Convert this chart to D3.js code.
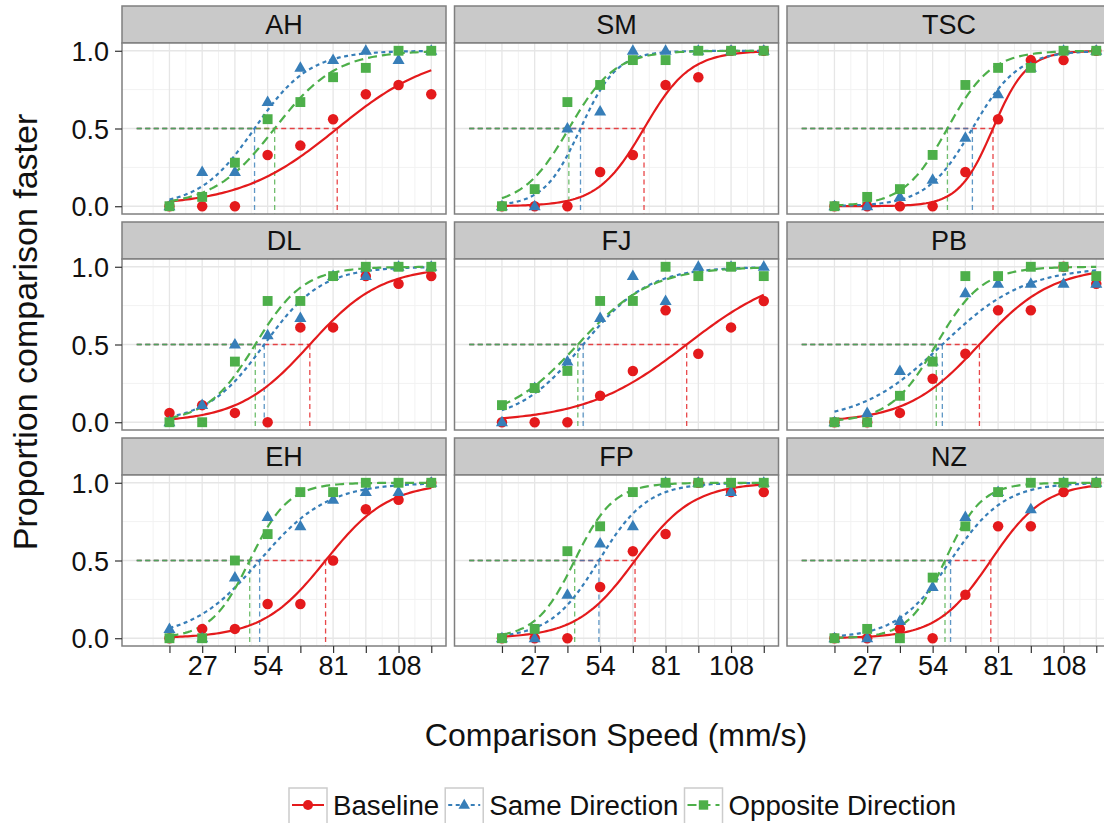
<!DOCTYPE html>
<html>
<head>
<meta charset="utf-8">
<script src="https://cdnjs.cloudflare.com/ajax/libs/d3/7.8.5/d3.min.js"></script>
<style>
  body { margin: 0; background: #fff; }
  text { font-family: "Liberation Sans", Arial, Helvetica, sans-serif; }
</style>
</head>
<body>
<div id="chart"></div>
<script>
// data: proportion "comparison faster" per speed
var subjects = ['AH', 'SM', 'TSC', 'DL', 'FJ', 'PB', 'EH', 'FP', 'NZ']
var conditions = ['Baseline', 'Same Direction', 'Opposite Direction']
var speeds = [13.5, 27, 40.5, 54, 67.5, 81, 94.5, 108, 121.5]
var xTickLabels = ['', '27', '', '54', '', '81', '', '108', '']
var yTicks = [0, 0.5, 1.0]

var baselineProp = [
  [0, 0, 0, 0.33, 0.39, 0.56, 0.72, 0.78, 0.72],
  [0, 0, 0, 0.22, 0.33, 0.78, 0.83, 1.0, 1.0],
  [0, 0, 0, 0, 0.22, 0.56, 0.94, 0.94, 1.0],
  [0.06, 0.11, 0.06, 0, 0.61, 0.61, 0.94, 0.89, 0.94],
  [0, 0, 0, 0.17, 0.33, 0.72, 0.44, 0.61, 0.78],
  [0, 0, 0.06, 0.28, 0.44, 0.72, 0.72, 1.0, 0.89],
  [0, 0.06, 0.06, 0.22, 0.22, 0.5, 0.83, 0.89, 1.0],
  [0, 0, 0, 0.33, 0.56, 0.67, 1.0, 0.94, 0.94],
  [0, 0, 0.06, 0, 0.28, 0.72, 0.72, 0.94, 1.0]
]
var sameProp = [
  [0, 0.22, 0.22, 0.67, 0.89, 0.94, 1.0, 0.94, 1.0],
  [0, 0, 0.5, 0.61, 1.0, 1.0, 1.0, 1.0, 1.0],
  [0, 0, 0.06, 0.17, 0.44, 0.72, 0.89, 1.0, 1.0],
  [0, 0.11, 0.5, 0.56, 0.67, 0.94, 0.94, 1.0, 1.0],
  [0, 0.22, 0.39, 0.67, 0.94, 0.78, 1.0, 1.0, 1.0],
  [0, 0.06, 0.33, 0.39, 0.83, 0.89, 0.89, 0.89, 0.89],
  [0.06, 0, 0.39, 0.78, 0.72, 0.89, 0.94, 0.94, 1.0],
  [0, 0, 0.28, 0.61, 0.72, 1.0, 1.0, 0.94, 1.0],
  [0, 0, 0.11, 0.33, 0.78, 0.94, 0.83, 1.0, 1.0]
]
var oppositeProp = [
  [0, 0.06, 0.28, 0.56, 0.67, 0.83, 0.89, 1.0, 1.0],
  [0, 0.11, 0.67, 0.78, 0.94, 0.94, 1.0, 1.0, 1.0],
  [0, 0.06, 0.11, 0.33, 0.78, 0.89, 0.89, 1.0, 1.0],
  [0, 0, 0.39, 0.78, 0.78, 0.94, 1.0, 1.0, 1.0],
  [0.11, 0.22, 0.33, 0.78, 0.78, 1.0, 0.94, 1.0, 0.94],
  [0, 0, 0.17, 0.39, 0.94, 0.94, 1.0, 1.0, 0.94],
  [0, 0, 0.5, 0.67, 0.94, 0.94, 1.0, 1.0, 1.0],
  [0, 0.06, 0.56, 0.72, 0.94, 1.0, 1.0, 1.0, 1.0],
  [0, 0.06, 0, 0.39, 0.72, 0.94, 1.0, 1.0, 1.0]
]

// fitted psychometric functions: 50% point (PSE) and spread, per subject
var baselinePSE = [82.7, 72.1, 78.9, 71.4, 89.7, 73.3, 77.9, 68.4, 78.0]
var baselineSpread = [20, 9.5, 7, 14.7, 21, 15, 13, 12, 11]
var samePSE = [48.6, 45.9, 70.4, 52.6, 47.0, 58.0, 50.7, 53.5, 61.4]
var sameSpread = [11.3, 7.5, 9.5, 11.8, 13.5, 17, 14, 10, 11]
var oppositePSE = [56.9, 41.1, 60.1, 48.9, 44.8, 55.5, 46.6, 43.5, 59.1]
var oppositeSpread = [12.7, 9.5, 9, 10, 15, 9.5, 8, 8, 7.5]

var colors = ['#E41A1C', '#377EB8', '#4DAF4A']
var dashes = [null, '4,3.5', '9,5']
var props = [baselineProp, sameProp, oppositeProp]
var pses = [baselinePSE, samePSE, oppositePSE]
var spreads = [baselineSpread, sameSpread, oppositeSpread]

var width = 1104, height = 823
var panelLeft = 122, panelW = 324, colStep = 332.5
var stripTop = 6, stripH = 37, panelH = 171, rowStep = 216

var svg = d3.select('#chart').append('svg')
  .attr('width', width)
  .attr('height', height)

var x = d3.scaleLinear().domain([-6.075, 127.575]).range([0, panelW])
var y = d3.scaleLinear().domain([-0.05, 1.05]).range([panelH, 0])

var majorX = speeds
var minorX = speeds.map(function(d) { return d - 6.75 })
var minorY = [0.25, 0.75]

function logistic(v, pse, s) { return 1 / (1 + Math.exp(-(v - pse) / s)) }

function drawMarker(sel, k, cx, cy, size) {
  if (k == 0) {
    sel.append('circle').attr('cx', cx).attr('cy', cy).attr('r', size * 0.5).attr('fill', colors[0])
  } else if (k == 1) {
    var h = size * 1.0, w = size * 1.15
    sel.append('path')
      .attr('d', 'M' + cx + ',' + (cy - h * 0.62) + 'L' + (cx + w / 2) + ',' + (cy + h * 0.38) + 'L' + (cx - w / 2) + ',' + (cy + h * 0.38) + 'Z')
      .attr('fill', colors[1])
  } else {
    sel.append('rect').attr('x', cx - size * 0.47).attr('y', cy - size * 0.47)
      .attr('width', size * 0.94).attr('height', size * 0.94).attr('fill', colors[2])
  }
}

var curve = d3.line().x(function(d) { return x(d[0]) }).y(function(d) { return y(d[1]) })

subjects.forEach(function(name, i) {
  var col = i % 3, row = Math.floor(i / 3)
  var g = svg.append('g')
    .attr('transform', 'translate(' + (panelLeft + col * colStep) + ',' + (stripTop + row * rowStep + stripH) + ')')

  // strip
  g.append('rect')
    .attr('x', 0).attr('y', -stripH).attr('width', panelW).attr('height', stripH)
    .attr('fill', '#C9C9C9').attr('stroke', '#7F7F7F').attr('stroke-width', 1.5)
  g.append('text')
    .attr('x', panelW / 2).attr('y', -stripH / 2 + 9.5)
    .attr('text-anchor', 'middle').attr('font-size', 27).attr('fill', '#111')
    .text(name)

  g.append('rect').attr('width', panelW).attr('height', panelH).attr('fill', '#fff')

  // grid
  g.selectAll('.minx').data(minorX).enter().append('line')
    .attr('x1', function(d) { return x(d) }).attr('x2', function(d) { return x(d) })
    .attr('y1', 0).attr('y2', panelH).attr('stroke', '#F2F2F2').attr('stroke-width', 1)
  g.selectAll('.miny').data(minorY).enter().append('line')
    .attr('y1', function(d) { return y(d) }).attr('y2', function(d) { return y(d) })
    .attr('x1', 0).attr('x2', panelW).attr('stroke', '#F2F2F2').attr('stroke-width', 1)
  g.selectAll('.majx').data(majorX).enter().append('line')
    .attr('x1', function(d) { return x(d) }).attr('x2', function(d) { return x(d) })
    .attr('y1', 0).attr('y2', panelH).attr('stroke', '#E6E6E6').attr('stroke-width', 1.3)
  g.selectAll('.majy').data(yTicks).enter().append('line')
    .attr('y1', function(d) { return y(d) }).attr('y2', function(d) { return y(d) })
    .attr('x1', 0).attr('x2', panelW).attr('stroke', '#E6E6E6').attr('stroke-width', 1.3)

  // threshold guides at 50%
  for (var k = 0; k < 3; k++) {
    var pse = pses[k][i]
    g.append('line')
      .attr('x1', x(0)).attr('x2', x(pse)).attr('y1', y(0.5)).attr('y2', y(0.5))
      .attr('stroke', colors[k]).attr('stroke-width', 1.3).attr('stroke-dasharray', '5,3.5')
      .attr('opacity', 0.8)
    g.append('line')
      .attr('x1', x(pse)).attr('x2', x(pse)).attr('y1', y(0.5)).attr('y2', panelH)
      .attr('stroke', colors[k]).attr('stroke-width', 1.3).attr('stroke-dasharray', '5,3.5')
      .attr('opacity', 0.8)
  }

  // fitted curves
  for (var k = 0; k < 3; k++) {
    var pts = d3.range(0, 101).map(function(t) {
      var v = speeds[0] + (speeds[8] - speeds[0]) * t / 100
      return [v, logistic(v, pses[k][i], spreads[k][i])]
    })
    g.append('path').datum(pts)
      .attr('d', curve)
      .attr('fill', 'none')
      .attr('stroke', colors[k])
      .attr('stroke-width', 2.2)
      .attr('stroke-dasharray', dashes[k])
  }

  // observed points
  for (var k = 0; k < 3; k++) {
    props[k][i].forEach(function(p, j) {
      drawMarker(g, k, x(speeds[j]), y(p), 10.5)
    })
  }

  g.append('rect').attr('width', panelW).attr('height', panelH)
    .attr('fill', 'none').attr('stroke', '#7F7F7F').attr('stroke-width', 1.5)

  // axes
  if (col == 0) {
    var ya = g.append('g')
      .call(d3.axisLeft(y).tickValues(yTicks).tickFormat(d3.format('.1f')).tickSize(7).tickPadding(6))
    ya.select('.domain').remove()
    ya.selectAll('line').attr('stroke', '#333').attr('stroke-width', 1.2)
    ya.selectAll('text').attr('font-size', 27).attr('fill', '#111').attr('dy', '0.36em')
      .style('font-family', '"Liberation Sans", Arial, sans-serif')
  }
  if (row == 2) {
    var xa = g.append('g')
      .attr('transform', 'translate(0,' + panelH + ')')
      .call(d3.axisBottom(x).tickValues(speeds).tickFormat(function(d, j) { return xTickLabels[j] }).tickSize(7).tickPadding(3))
    xa.select('.domain').remove()
    xa.selectAll('line').attr('stroke', '#333').attr('stroke-width', 1.2)
    xa.selectAll('text').attr('font-size', 27).attr('fill', '#111')
      .style('font-family', '"Liberation Sans", Arial, sans-serif')
  }
})

// axis titles
svg.append('text')
  .attr('transform', 'translate(37,332) rotate(-90)')
  .attr('text-anchor', 'middle').attr('font-size', 34).attr('fill', '#111')
  .text('Proportion comparison faster')
svg.append('text')
  .attr('x', 616).attr('y', 746)
  .attr('text-anchor', 'middle').attr('font-size', 32).attr('fill', '#111')
  .text('Comparison Speed (mm/s)')

// legend
var lx = 289, ly = 788, keySize = 38
conditions.forEach(function(c, k) {
  var lg = svg.append('g')
  lg.append('rect').attr('x', lx).attr('y', ly).attr('width', keySize).attr('height', keySize)
    .attr('fill', '#fff').attr('stroke', '#CCCCCC').attr('stroke-width', 1.5)
  lg.append('line')
    .attr('x1', lx + 3).attr('x2', lx + keySize - 3)
    .attr('y1', ly + 17).attr('y2', ly + 17)
    .attr('stroke', colors[k]).attr('stroke-width', 2)
    .attr('stroke-dasharray', dashes[k])
  drawMarker(lg, k, lx + keySize / 2, ly + 17, 10)
  var t = lg.append('text')
    .attr('x', lx + keySize + 6).attr('y', ly + 27)
    .attr('font-size', 27.7).attr('fill', '#111')
    .text(c)
  lx = lx + keySize + 6 + t.node().getComputedTextLength() + 6
})
</script>
</body>
</html>
